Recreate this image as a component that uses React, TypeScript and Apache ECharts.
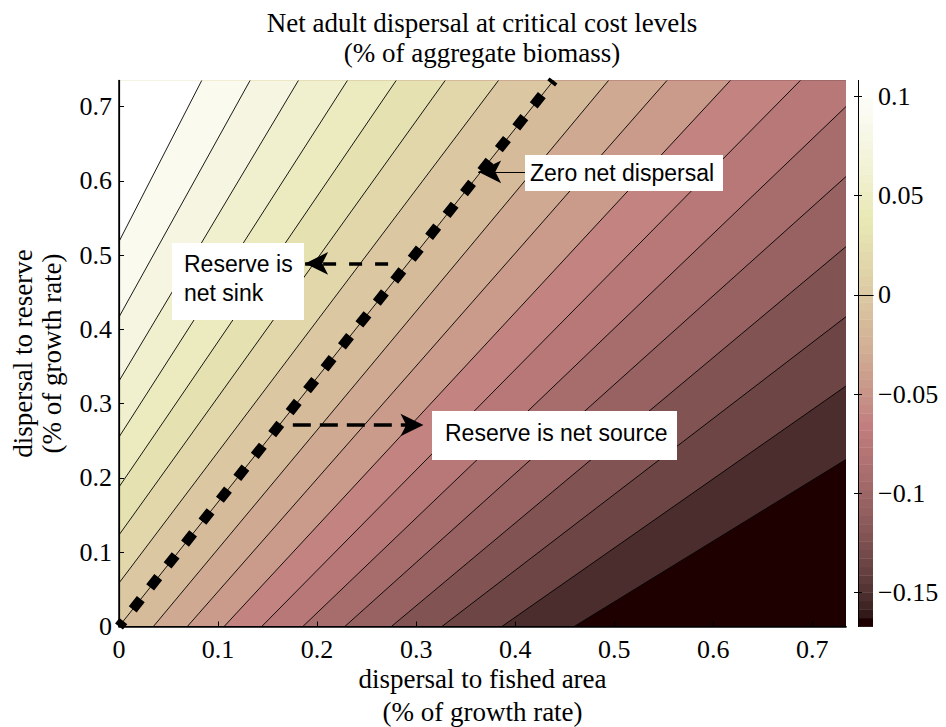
import React, { useEffect, useRef } from 'react';
import * as echarts from 'echarts';

const SERIF = "'Liberation Serif', 'Times New Roman', serif";
const SANS = "'Liberation Sans', Arial, sans-serif";

const X_MAX = 0.734;
const Y_MAX = 0.735;
const Z_MIN = -0.167;
const Z_MAX = 0.108;

const xTickValues = [0, 0.1, 0.2, 0.3, 0.4, 0.5, 0.6, 0.7];
const yTickValues = [0, 0.1, 0.2, 0.3, 0.4, 0.5, 0.6, 0.7];
const colorbarTicks = [-0.15, -0.1, -0.05, 0, 0.05, 0.1];

// contour level of each line (lowest first)
const contourLevels = [
  -0.15, -0.135, -0.12, -0.105, -0.09, -0.075, -0.06, -0.045, -0.03, -0.015,
  0, 0.015, 0.03, 0.045, 0.06, 0.075, 0.09, 0.105,
];

// contour lines: [dispersal to fished area, dispersal to reserve]
const contourPaths: number[][][] = [
  [[0.4596, 0], [0.734, 0.2248]],
  [[0.3866, 0], [0.734, 0.3237]],
  [[0.326, 0], [0.734, 0.417]],
  [[0.275, 0], [0.734, 0.5114]],
  [[0.228, 0], [0.734, 0.6057]],
  [[0.1856, 0], [0.734, 0.6999]],
  [[0.1441, 0], [0.6879, 0.735]],
  [[0.1061, 0], [0.6172, 0.735]],
  [[0.069, 0], [0.5532, 0.735]],
  [[0.0347, 0], [0.4942, 0.735]],
  [[0, 0], [0.4387, 0.735]],
  [[0, 0.0585], [0.3831, 0.735]],
  [[0, 0.1232], [0.3293, 0.735]],
  [[0, 0.1878], [0.2798, 0.735]],
  [[0, 0.255], [0.2306, 0.735]],
  [[0, 0.3304], [0.1811, 0.735]],
  [[0, 0.4166], [0.1323, 0.735]],
  [[0, 0.5182], [0.0835, 0.735]],
];

// zero net dispersal line
const zeroLine = [[0, 0], [0.4387, 0.735]];

// annotation arrows (tail, head tip)
const arrowZero = [[0.4101, 0.6121], [0.3626, 0.6121]];
const arrowSink = [[0.2717, 0.4888], [0.1879, 0.4888]];
const arrowSource = [[0.1755, 0.2712], [0.3074, 0.2712]];

// MATLAB "pink" colormap (64 entries)
function pinkMap(m: number): string[] {
  const n = Math.floor((3 / 8) * m);
  const out: string[] = [];
  for (let i = 0; i < m; i++) {
    const gray = i / (m - 1);
    const rh = i < n ? (i + 1) / n : 1;
    const gh = i < n ? 0 : i < 2 * n ? (i - n + 1) / n : 1;
    const bh = i < 2 * n ? 0 : (i - 2 * n + 1) / (m - 2 * n);
    const r = Math.sqrt((2 * gray + rh) / 3);
    const g = Math.sqrt((2 * gray + gh) / 3);
    const b = Math.sqrt((2 * gray + bh) / 3);
    out.push(`rgb(${Math.round(r * 255)},${Math.round(g * 255)},${Math.round(b * 255)})`);
  }
  return out;
}
const PINK = pinkMap(64);
function colorFor(v: number): string {
  let idx = Math.floor(((v - Z_MIN) / (Z_MAX - Z_MIN)) * PINK.length);
  idx = Math.max(0, Math.min(PINK.length - 1, idx));
  return PINK[idx];
}

const fmtMain = (v: number) => String(+v.toFixed(2));
const fmtBar = (v: number) => (v < 0 ? '\u2212' + String(+(-v).toFixed(2)) : String(+v.toFixed(2)));

export default function App() {
  const ref = useRef<HTMLDivElement>(null);
  useEffect(() => {
    document.body.style.margin = '0';
    const chart = echarts.init(ref.current!, null, { renderer: 'svg' });
    const bandLevels = [Z_MIN, ...contourLevels];

    const labelStyle = { color: '#000', fontFamily: SERIF, fontSize: 26 };
    const blackLine = (w: number) => ({ show: true, lineStyle: { color: '#000', width: w } });

    const option: any = {
      animation: false,
      backgroundColor: '#fff',
      title: {
        text: 'Net adult dispersal at critical cost levels\n(% of aggregate biomass)',
        left: 477,
        top: 3,
        textAlign: 'center',
        textStyle: { fontFamily: SERIF, fontSize: 27, fontWeight: 'normal', color: '#000', lineHeight: 30 },
      },
      grid: [
        { left: 119, top: 80.5, width: 727, height: 546, outerBoundsMode: 'none' },
        { left: 858, top: 80.5, width: 15, height: 546, outerBoundsMode: 'none' },
      ],
      xAxis: [
        {
          gridIndex: 0, type: 'value', min: 0, max: X_MAX, position: 'bottom', z: 10,
          axisLine: blackLine(1.5),
          axisTick: { show: true, inside: true, length: 5, customValues: xTickValues, lineStyle: { color: '#000' } },
          axisLabel: { ...labelStyle, margin: 10, customValues: xTickValues, formatter: fmtMain },
          splitLine: { show: false },
          name: 'dispersal to fished area\n(% of growth rate)',
          nameLocation: 'middle', nameGap: 36, nameMoveOverlap: false,
          nameTextStyle: { ...labelStyle, fontSize: 27, lineHeight: 33 },
        },
        {
          gridIndex: 1, type: 'value', min: 0, max: 1, position: 'bottom', z: 10,
          axisLine: blackLine(1), axisTick: { show: false }, axisLabel: { show: false }, splitLine: { show: false },
        },
        {
          gridIndex: 0, type: 'value', min: 0, max: X_MAX, position: 'top', z: 10,
          axisLine: blackLine(1.2), axisTick: { show: false }, axisLabel: { show: false }, splitLine: { show: false },
        },
        {
          gridIndex: 1, type: 'value', min: 0, max: 1, position: 'top', z: 10,
          axisLine: blackLine(1), axisTick: { show: false }, axisLabel: { show: false }, splitLine: { show: false },
        },
      ],
      yAxis: [
        {
          gridIndex: 0, type: 'value', min: 0, max: Y_MAX, position: 'left', z: 10,
          axisLine: blackLine(1.5),
          axisTick: { show: true, inside: true, length: 5, customValues: yTickValues, lineStyle: { color: '#000' } },
          axisLabel: { ...labelStyle, margin: 7, customValues: yTickValues, formatter: fmtMain },
          splitLine: { show: false },
          name: 'dispersal to reserve\n(% of growth rate)',
          nameLocation: 'middle', nameRotate: 90, nameGap: 53, nameMoveOverlap: false,
          nameTextStyle: { ...labelStyle, fontSize: 27, lineHeight: 29 },
        },
        {
          gridIndex: 1, type: 'value', min: Z_MIN, max: Z_MAX, position: 'right', z: 10,
          axisLine: blackLine(1),
          axisTick: { show: true, inside: true, length: 4, customValues: colorbarTicks, lineStyle: { color: '#000' } },
          axisLabel: { ...labelStyle, margin: 5, customValues: colorbarTicks, formatter: fmtBar },
          splitLine: { show: false },
        },
        {
          gridIndex: 0, type: 'value', min: 0, max: Y_MAX, position: 'right', z: 10,
          axisLine: blackLine(1.2), axisTick: { show: false }, axisLabel: { show: false }, splitLine: { show: false },
        },
        {
          gridIndex: 1, type: 'value', min: Z_MIN, max: Z_MAX, position: 'left', z: 10,
          axisLine: blackLine(1),
          axisTick: { show: true, inside: true, length: 4, customValues: colorbarTicks, lineStyle: { color: '#000' } },
          axisLabel: { show: false }, splitLine: { show: false },
        },
      ],
      series: [
        {
          type: 'custom', name: 'bands', xAxisIndex: 0, yAxisIndex: 0, clip: true, silent: true, z: 1,
          data: bandLevels.map((lv) => [0, 0, lv]),
          renderItem: (params: any, api: any) => {
            const i = params.dataIndex;
            let pts: number[][];
            if (i === 0) {
              pts = [[0, 0], [X_MAX, 0], [X_MAX, Y_MAX], [0, Y_MAX]];
            } else {
              const path = contourPaths[i - 1];
              pts = path.slice();
              const start = path[0];
              const end = path[path.length - 1];
              if (end[0] >= X_MAX - 1e-9) pts.push([X_MAX, Y_MAX]);
              pts.push([0, Y_MAX]);
              if (start[1] <= 1e-9) pts.push([0, 0]);
            }
            const c = colorFor(bandLevels[i]);
            return {
              type: 'polygon',
              shape: { points: pts.map((p) => api.coord(p)) },
              style: { fill: c, stroke: c, lineWidth: 0.3 },
            };
          },
        },
        ...contourPaths.map((path, k) => ({
          type: 'line', name: 'contour ' + contourLevels[k], xAxisIndex: 0, yAxisIndex: 0,
          data: path, showSymbol: false, symbol: 'none', silent: true, z: 3, clip: true,
          lineStyle: { color: '#000', width: 0.9 },
        })),
        {
          type: 'line', name: 'Zero net dispersal', xAxisIndex: 0, yAxisIndex: 0,
          data: zeroLine, showSymbol: false, symbol: 'none', silent: true, z: 4, clip: true,
          lineStyle: { color: '#000', width: 10, type: [13, 15], dashOffset: 6, cap: 'butt' },
        },
        ...[
          { pts: arrowZero, dash: 'solid', width: 1.2, size: [17, 23] },
          { pts: arrowSink, dash: [13, 13], width: 3.5, size: [17, 23] },
          { pts: arrowSource, dash: [18, 9], width: 3.5, size: [17, 23] },
        ].map((a) => ({
          type: 'line', xAxisIndex: 0, yAxisIndex: 0, data: [], silent: true, z: 5,
          markLine: {
            silent: true, symbol: ['none', 'arrow'], symbolSize: a.size,
            label: { show: false },
            lineStyle: { color: '#000', width: a.width, type: a.dash },
            emphasis: { disabled: true },
            data: [[{ coord: a.pts[0] }, { coord: a.pts[1] }]],
          },
        })),
        {
          type: 'custom', name: 'colorbar', xAxisIndex: 1, yAxisIndex: 1, silent: true, z: 1,
          data: [[0, 0]],
          renderItem: (params: any, api: any) => {
            const children = PINK.map((c, i) => {
              const v0 = Z_MIN + ((Z_MAX - Z_MIN) * i) / PINK.length;
              const v1 = Z_MIN + ((Z_MAX - Z_MIN) * (i + 1)) / PINK.length;
              const p0 = api.coord([0, v0]);
              const p1 = api.coord([1, v1]);
              return {
                type: 'rect',
                shape: { x: p0[0], y: p1[1], width: p1[0] - p0[0], height: p0[1] - p1[1] + 0.4 },
                style: { fill: c },
              };
            });
            return { type: 'group', children };
          },
        },
      ],
      graphic: [
        { type: 'rect', z: 100, shape: { x: 525, y: 155, width: 198, height: 36 }, style: { fill: '#fff' } },
        { type: 'text', z: 101, x: 530, y: 173, style: { text: 'Zero net dispersal', fontFamily: SANS, fontSize: 23, fill: '#000', verticalAlign: 'middle', align: 'left' } },
        { type: 'rect', z: 100, shape: { x: 172, y: 243, width: 132, height: 77 }, style: { fill: '#fff' } },
        { type: 'text', z: 101, x: 184, y: 249, style: { text: 'Reserve is\nnet sink', fontFamily: SANS, fontSize: 23, lineHeight: 29, fill: '#000', verticalAlign: 'top', align: 'left' } },
        { type: 'rect', z: 100, shape: { x: 432, y: 411, width: 245, height: 49 }, style: { fill: '#fff' } },
        { type: 'text', z: 101, x: 445, y: 433, style: { text: 'Reserve is net source', fontFamily: SANS, fontSize: 23, fill: '#000', verticalAlign: 'middle', align: 'left' } },
      ],
    };
    chart.setOption(option);
    return () => chart.dispose();
  }, []);
  return <div ref={ref} style={{ width: 946, height: 727 }} />;
}
